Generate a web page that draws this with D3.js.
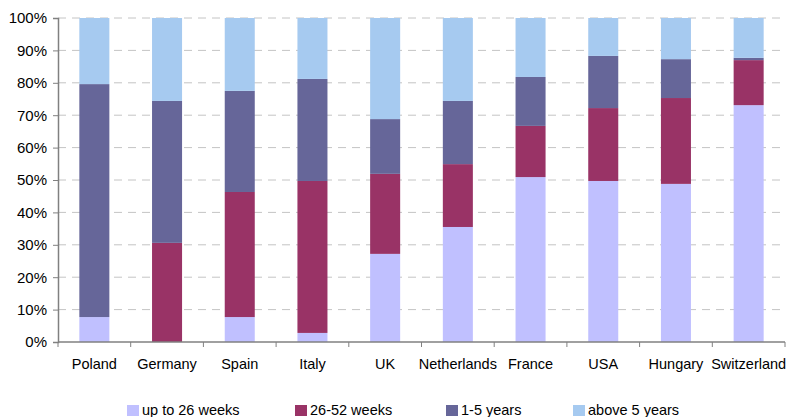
<!DOCTYPE html>
<html><head><meta charset="utf-8">
<script src="https://cdn.jsdelivr.net/npm/d3@7/dist/d3.min.js"></script>
<style>body{margin:0;background:#fff}svg{display:block}text{font-family:"Liberation Sans",Arial,sans-serif;fill:#000}</style>
</head><body><svg id="c" width="793" height="417"></svg>
<script>
const categories = ["Poland","Germany","Spain","Italy","UK","Netherlands","France","USA","Hungary","Switzerland"];
const seriesNames = ["up to 26 weeks","26-52 weeks","1-5 years","above 5 years"];
const upTo26Weeks = [7.7, 0, 7.7, 2.8, 27.2, 35.5, 50.9, 49.7, 48.8, 73.1];
const weeks26to52 = [0, 30.6, 38.6, 46.9, 24.7, 19.4, 15.8, 22.5, 26.5, 13.9];
const years1to5 = [71.9, 43.8, 31.2, 31.5, 16.9, 19.5, 15.1, 16.1, 12.0, 0.7];
const above5Years = [20.4, 25.6, 22.5, 18.8, 31.2, 25.6, 18.2, 11.7, 12.7, 12.3];
const yTicks = [0,10,20,30,40,50,60,70,80,90,100];
const colors = ["#c0c0ff","#993366","#666699","#a6caf0"];

(function(){
const svg = d3.select("#c");
const mL = 58, mR = 785, mT = 18, mB = 342;
const x = d3.scaleBand().domain(categories).range([mL, mR]).paddingInner(0.587).paddingOuter(0.2935);
const xTicks = d3.scaleBand().domain(categories).range([mL, mR]);
const y = d3.scaleLinear().domain([0,100]).range([mB, mT]);

svg.append("g").selectAll("line").data(yTicks.filter(d=>d>0)).join("line")
  .attr("x1", mL).attr("x2", mR).attr("y1", d=>y(d)).attr("y2", d=>y(d))
  .attr("stroke","#c4c4c4").attr("stroke-width",1).attr("stroke-dasharray","8,6");

const rows = categories.map((c,i)=>({cat:c, s0:upTo26Weeks[i], s1:weeks26to52[i], s2:years1to5[i], s3:above5Years[i]}));
const stack = d3.stack().keys(["s0","s1","s2","s3"])(rows);
svg.append("g").selectAll("g").data(stack).join("g").attr("fill",(d,i)=>colors[i])
  .selectAll("rect").data(d=>d).join("rect")
  .attr("x", d=>x(d.data.cat)).attr("width", x.bandwidth())
  .attr("y", d=>y(d[1])).attr("height", d=>y(d[0])-y(d[1]));

const ya = svg.append("g").attr("transform",`translate(${mL},0)`)
  .call(d3.axisLeft(y).tickValues(yTicks).tickFormat(d=>d+"%").tickSize(5).tickPadding(6));
ya.select(".domain").attr("stroke","#808080").attr("stroke-width",1.5);
ya.selectAll(".tick line").attr("stroke","#808080");
ya.selectAll("text").attr("font-size",15).attr("font-family","Liberation Sans, Arial, sans-serif").attr("fill","#000");

const xg = svg.append("g").attr("transform",`translate(0,${mB})`);
xg.append("line").attr("x1",mL).attr("x2",mR).attr("stroke","#808080").attr("stroke-width",1.5);
const tickPos = categories.map(c=>xTicks(c)).concat([mR]);
xg.selectAll("line.t").data(tickPos).join("line").attr("class","t")
  .attr("x1",d=>d).attr("x2",d=>d).attr("y1",0).attr("y2",5).attr("stroke","#808080");
xg.selectAll("text").data(categories).join("text")
  .attr("x", d=>xTicks(d)+xTicks.bandwidth()/2).attr("y", 27)
  .attr("text-anchor","middle").attr("font-size",14.5).text(d=>d);

const legX = [127, 295, 446, 573];
const lg = svg.append("g");
seriesNames.forEach((n,i)=>{
  lg.append("rect").attr("x",legX[i]).attr("y",405).attr("width",12).attr("height",11).attr("fill",colors[i]);
  lg.append("text").attr("x",legX[i]+15).attr("y",415).attr("font-size",14.5).text(n);
});
})();
</script></body></html>
